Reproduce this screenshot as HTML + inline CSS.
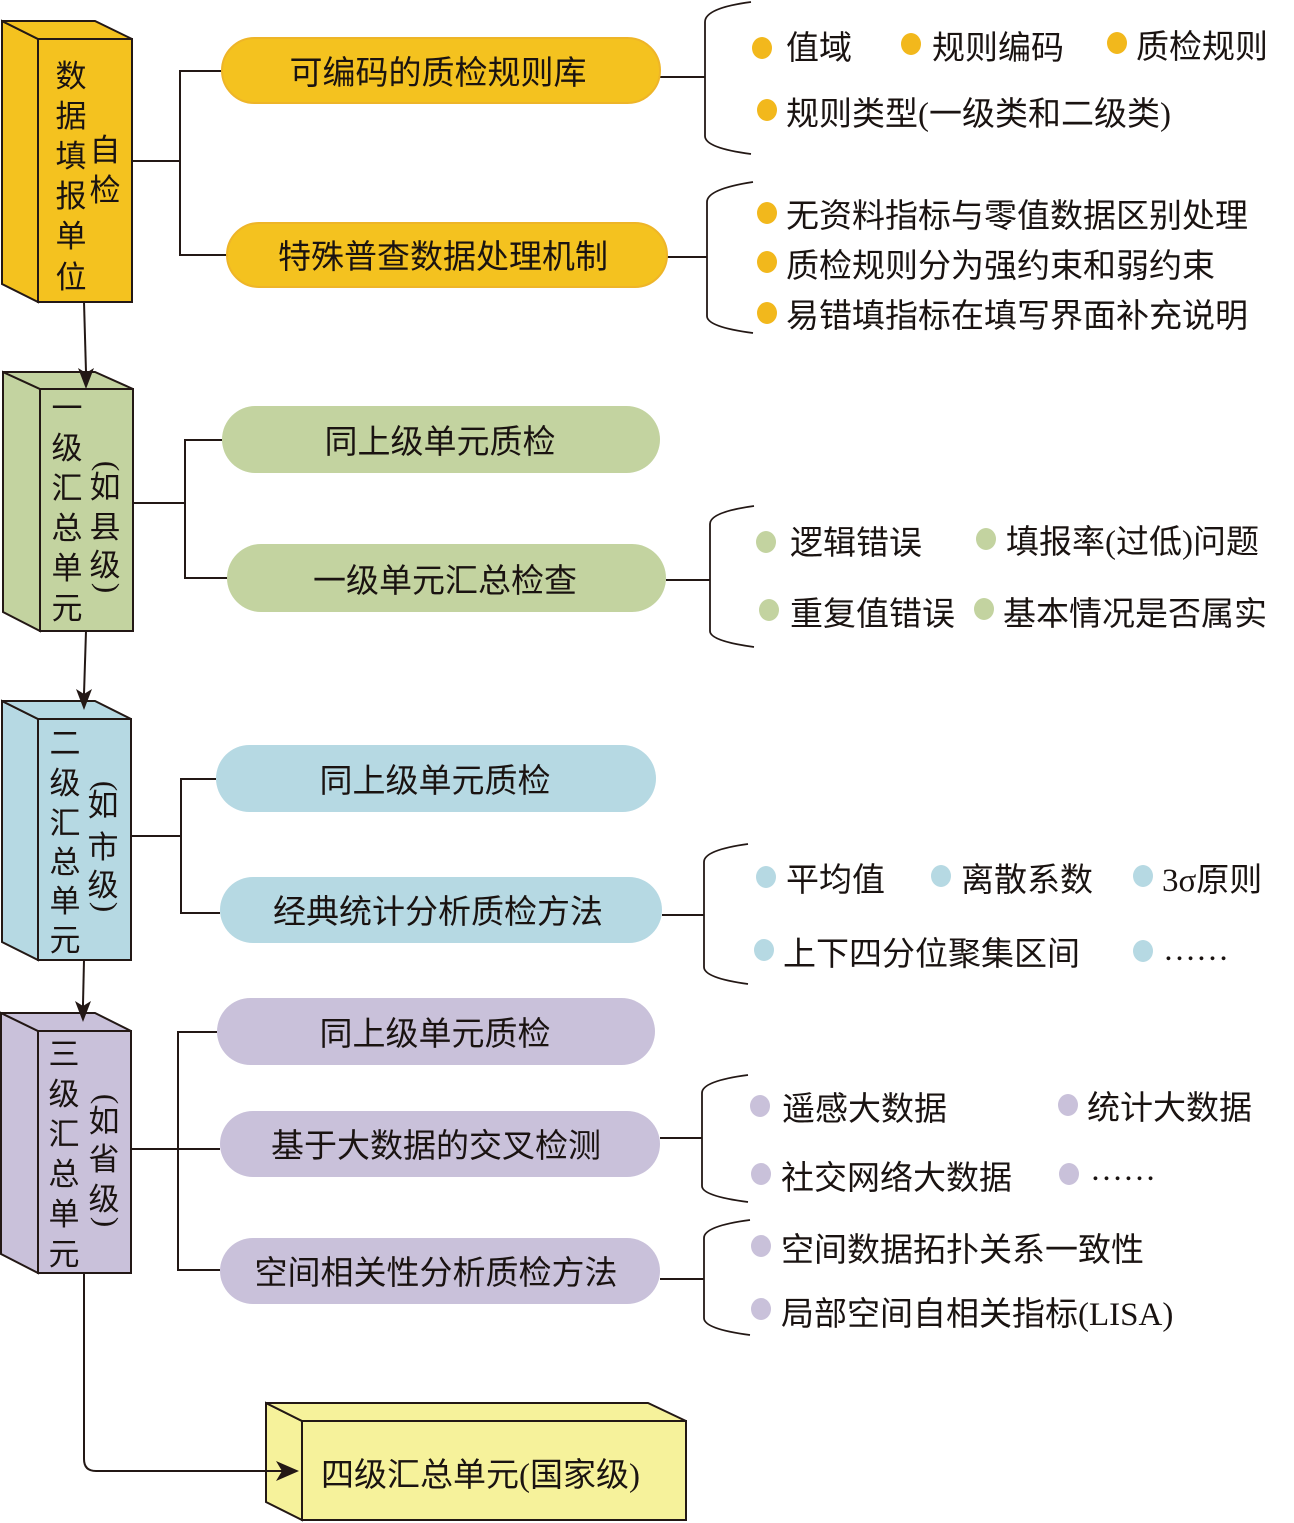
<!DOCTYPE html>
<html><head><meta charset="utf-8"><style>
html,body{margin:0;padding:0;background:#fff;}
svg{display:block;}
text{font-family:"Liberation Serif","Noto Sans CJK SC","WenQuanYi Zen Hei",sans-serif;fill:#1a1311;}
</style></head><body>
<svg width="1294" height="1523" viewBox="0 0 1294 1523" xmlns="http://www.w3.org/2000/svg">
<g stroke="#231815" stroke-width="2" fill="none">
  <path d="M132,161 H180 M222,71 H180 V255 H228"/>
  <path d="M133,503 H185 M222,440 H185 V578 H228"/>
  <path d="M131,836 H181 M216,779 H181 V913 H220"/>
  <path d="M131,1149 H220 M217,1032 H178 V1270 H220"/>
  <path d="M84,302 L86,372"/>
  <path d="M86,631 L84,694"/>
  <path d="M84,960 L83,1004"/>
  <path d="M84,1273 V1459 Q84,1471 96,1471 H282"/>
  <path d="M660,77 H705 M666,257 H707 M666,580 H710 M662,915 H704 M660,1138 H702 M660,1279 H704"/>
</g>
<g stroke="#231815" stroke-width="1.8" fill="none">
  <path d="M751,2 Q705,8 705,22 L705,136 Q705,148 751,154"/>
  <path d="M753,182 Q707,189 707,202 L707,316 Q707,327 753,333"/>
  <path d="M754,506 Q710,512 710,524 L710,631 Q710,641 754,647"/>
  <path d="M748,844 Q704,850 704,862 L704,967 Q704,978 748,984"/>
  <path d="M748,1075 Q702,1081 702,1093 L702,1186 Q702,1196 748,1202"/>
  <path d="M750,1220 Q704,1226 704,1238 L704,1318 Q704,1329 750,1335"/>
</g>

<!-- boxes -->
<g stroke="#231815" stroke-width="2" stroke-linejoin="miter">
  <g fill="#F4C21F">
    <polygon points="2,21 38,39 38,302 2,284"/>
    <polygon points="2,21 95,21 132,39 38,39"/>
    <rect x="38" y="39" width="94" height="263"/>
  </g>
  <g fill="#C3D3A0">
    <polygon points="3,372 40,389 40,631 3,612"/>
    <polygon points="3,372 95,372 133,389 40,389"/>
    <rect x="40" y="389" width="93" height="242"/>
  </g>
  <g fill="#B6D9E3">
    <polygon points="2,701 38,719 38,960 2,942"/>
    <polygon points="2,701 95,701 131,719 38,719"/>
    <rect x="38" y="719" width="93" height="241"/>
  </g>
  <g fill="#C9C1DA">
    <polygon points="1,1013 38,1031 38,1273 1,1254"/>
    <polygon points="1,1013 95,1013 131,1031 38,1031"/>
    <rect x="38" y="1031" width="93" height="242"/>
  </g>
  <g fill="#F6F29B">
    <polygon points="266,1403 302,1421 302,1520 266,1502"/>
    <polygon points="266,1403 648,1403 686,1421 302,1421"/>
    <rect x="302" y="1421" width="384" height="99"/>
  </g>
</g>
<!-- arrow lines/tips over boxes -->
<g stroke="#231815" stroke-width="2" fill="none">
  <path d="M86,370 L86,378"/>
  <path d="M84,692 L84,700"/>
  <path d="M83,1004 L83,1010"/>
  <path d="M264,1471 H284"/>
</g>
<g fill="#231815">
  <path d="M86,389 L78,368 L86,373 L94,368 Z"/>
  <path d="M84,710 L76,689 L84,694 L92,689 Z"/>
  <path d="M83,1022 L75,1001 L83,1006 L91,1001 Z"/>
  <path d="M299,1471 L276,1461 L282,1471 L276,1481 Z"/>
</g>

<!-- pills -->
<rect x="222" y="38" width="438" height="65" rx="32.5" fill="#F4C21F" stroke="#EEB528" stroke-width="2"/>
<rect x="227" y="223" width="440" height="64" rx="32" fill="#F4C21F" stroke="#EEB528" stroke-width="2"/>
<rect x="222" y="406" width="438" height="67" rx="33.5" fill="#C3D3A0"/>
<rect x="227" y="544" width="439" height="68" rx="34" fill="#C3D3A0"/>
<rect x="216" y="745" width="440" height="67" rx="33.5" fill="#B6D9E3"/>
<rect x="220" y="877" width="442" height="66" rx="33" fill="#B6D9E3"/>
<rect x="217" y="998" width="438" height="67" rx="33.5" fill="#C9C1DA"/>
<rect x="220" y="1111" width="440" height="66" rx="33" fill="#C9C1DA"/>
<rect x="220" y="1238" width="440" height="66" rx="33" fill="#C9C1DA"/>

<g font-size="33" text-anchor="middle">
  <text x="438" y="84">可编码的质检规则库</text>
  <text x="443" y="268">特殊普查数据处理机制</text>
  <text x="440" y="453">同上级单元质检</text>
  <text x="445" y="592">一级单元汇总检查</text>
  <text x="435" y="792">同上级单元质检</text>
  <text x="438" y="923">经典统计分析质检方法</text>
  <text x="435" y="1045">同上级单元质检</text>
  <text x="436" y="1157">基于大数据的交叉检测</text>
  <text x="436" y="1284">空间相关性分析质检方法</text>
</g>

<g font-size="31" text-anchor="middle">
  <text x="71" y="87">数</text>
  <text x="71" y="127">据</text>
  <text x="71" y="167">填</text>
  <text x="71" y="207">报</text>
  <text x="71" y="247">单</text>
  <text x="71" y="288">位</text>
  <text x="105" y="161">自</text>
  <text x="105" y="201">检</text>

  <text x="67" y="419">一</text>
  <text x="67" y="459">级</text>
  <text x="67" y="499">汇</text>
  <text x="67" y="539">总</text>
  <text x="67" y="579">单</text>
  <text x="67" y="619">元</text>
  <text x="105" y="498">如</text>
  <text x="105" y="538">县</text>
  <text x="105" y="576">级</text>

  <text x="65" y="754">二</text>
  <text x="65" y="794">级</text>
  <text x="65" y="834">汇</text>
  <text x="65" y="873">总</text>
  <text x="65" y="912">单</text>
  <text x="65" y="951">元</text>
  <text x="103" y="816">如</text>
  <text x="103" y="858">市</text>
  <text x="103" y="896">级</text>

  <text x="64" y="1065">三</text>
  <text x="64" y="1105">级</text>
  <text x="64" y="1145">汇</text>
  <text x="64" y="1185">总</text>
  <text x="64" y="1225">单</text>
  <text x="64" y="1265">元</text>
  <text x="104" y="1132">如</text>
  <text x="104" y="1170">省</text>
  <text x="104" y="1210">级</text>
</g>
<g font-size="31" text-anchor="middle">
  <text x="0" y="7" transform="translate(105,466) rotate(90)">(</text>
  <text x="0" y="7" transform="translate(105,588) rotate(90)">)</text>
  <text x="0" y="7" transform="translate(103,786) rotate(90)">(</text>
  <text x="0" y="7" transform="translate(103,907) rotate(90)">)</text>
  <text x="0" y="7" transform="translate(104,1099) rotate(90)">(</text>
  <text x="0" y="7" transform="translate(104,1222) rotate(90)">)</text>
</g>

<text x="321" y="1486" font-size="33">四级汇总单元(国家级)</text>

<g fill="#F2B81C">
  <ellipse cx="762" cy="48" rx="10" ry="11"/>
  <ellipse cx="911" cy="44" rx="10" ry="11"/>
  <ellipse cx="1117" cy="43" rx="10" ry="11"/>
  <ellipse cx="767" cy="110" rx="10" ry="11"/>
  <ellipse cx="767" cy="213" rx="10" ry="11"/>
  <ellipse cx="767" cy="262" rx="10" ry="11"/>
  <ellipse cx="767" cy="313" rx="10" ry="11"/>
</g>
<g fill="#C3D3A0">
  <ellipse cx="766" cy="542" rx="10" ry="11"/>
  <ellipse cx="986" cy="539" rx="10" ry="11"/>
  <ellipse cx="769" cy="610" rx="10" ry="11"/>
  <ellipse cx="984" cy="609" rx="10" ry="11"/>
</g>
<g fill="#B6D9E3">
  <ellipse cx="766" cy="877" rx="10" ry="11"/>
  <ellipse cx="941" cy="876" rx="10" ry="11"/>
  <ellipse cx="1143" cy="876" rx="10" ry="11"/>
  <ellipse cx="764" cy="950" rx="10" ry="11"/>
  <ellipse cx="1143" cy="951" rx="10" ry="11"/>
</g>
<g fill="#C9C1DA">
  <ellipse cx="760" cy="1106" rx="10" ry="11"/>
  <ellipse cx="1068" cy="1105" rx="10" ry="11"/>
  <ellipse cx="761" cy="1174" rx="10" ry="11"/>
  <ellipse cx="1069" cy="1174" rx="10" ry="11"/>
  <ellipse cx="761" cy="1246" rx="10" ry="11"/>
  <ellipse cx="761" cy="1309" rx="10" ry="11"/>
</g>

<g font-size="33">
  <text x="786" y="59">值域</text>
  <text x="932" y="59">规则编码</text>
  <text x="1136" y="58">质检规则</text>
  <text x="786" y="125">规则类型(一级类和二级类)</text>
  <text x="786" y="227">无资料指标与零值数据区别处理</text>
  <text x="786" y="277">质检规则分为强约束和弱约束</text>
  <text x="786" y="327">易错填指标在填写界面补充说明</text>

  <text x="790" y="554">逻辑错误</text>
  <text x="1006" y="553">填报率(过低)问题</text>
  <text x="790" y="625">重复值错误</text>
  <text x="1003" y="625">基本情况是否属实</text>

  <text x="786" y="891">平均值</text>
  <text x="961" y="891">离散系数</text>
  <text x="1162" y="891">3σ原则</text>
  <text x="783" y="965">上下四分位聚集区间</text>
  <text x="1163" y="960">……</text>

  <text x="782" y="1120">遥感大数据</text>
  <text x="1087" y="1119">统计大数据</text>
  <text x="781" y="1189">社交网络大数据</text>
  <text x="1090" y="1180">……</text>
  <text x="781" y="1261">空间数据拓扑关系一致性</text>
  <text x="781" y="1325">局部空间自相关指标(LISA)</text>
</g>
</svg>
</body></html>
